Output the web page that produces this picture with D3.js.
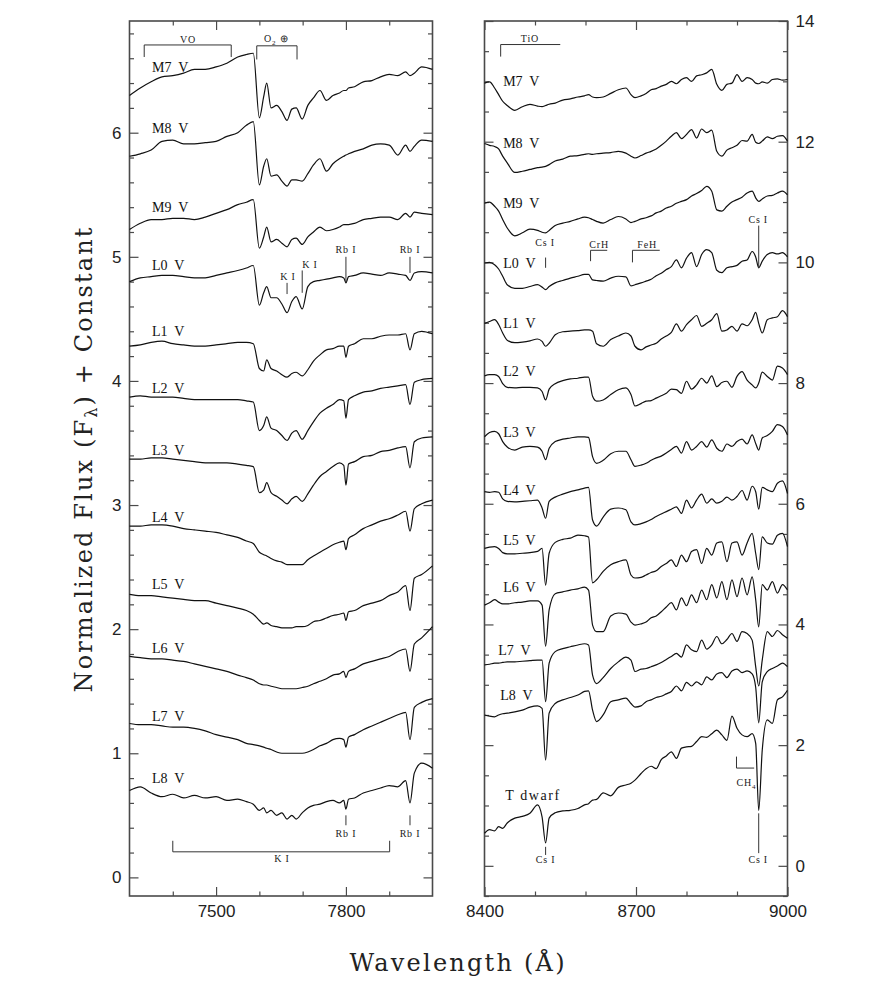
<!DOCTYPE html>
<html>
<head>
<meta charset="utf-8">
<title>Optical spectra of late-M and L dwarfs</title>
<script src="https://cdn.jsdelivr.net/npm/d3@7/dist/d3.min.js"></script>
<style>
  body { margin: 0; background: #fff; }
  svg { display: block; }
  .frame { fill: none; stroke: #4a4a4a; stroke-width: 1.6; }
  .spec { fill: none; stroke: #111; stroke-width: 1.2; stroke-linejoin: round; }
  .name { font-family: "Liberation Serif", serif; font-size: 14px; fill: #111; white-space: pre; }
  .note { font-family: "Liberation Serif", serif; font-size: 10px; fill: #222; letter-spacing: 0.8px; white-space: pre; }
  .mark { stroke: #333; stroke-width: 1; fill: none; }
  .title { font-family: "DejaVu Serif", serif; font-size: 24px; fill: #222; }
</style>
</head>
<body>
<svg id="chart" width="871" height="981"></svg>
<script>

// wavelength grids (Angstrom)
var leftWave = [7300,7325,7350,7375,7400,7425,7450,7475,7500,7525,7550,7570,7586,7600,7610,7617,7627,7640,7652,7664,7675,7685,7699,7712,7725,7740,7755,7770,7785,7795,7800,7806,7820,7840,7860,7880,7900,7920,7938,7948,7958,7975,8000];
var rightWave = [8400,8410,8420,8428,8436,8445,8460,8475,8490,8505,8514,8521,8528,8540,8555,8570,8585,8598,8606,8614,8622,8635,8650,8665,8680,8690,8698,8710,8720,8730,8740,8750,8760,8770,8780,8790,8800,8810,8820,8830,8840,8850,8860,8870,8880,8890,8900,8910,8920,8930,8937,8943,8950,8960,8970,8980,8990,9000];

// left panel: normalized flux + constant
var leftM7 = [6.30,6.36,6.41,6.45,6.46,6.48,6.51,6.51,6.53,6.56,6.61,6.63,6.64,6.12,6.29,6.40,6.20,6.22,6.17,6.10,6.19,6.20,6.11,6.22,6.28,6.34,6.26,6.30,6.32,6.34,6.34,6.36,6.37,6.41,6.42,6.45,6.47,6.46,6.49,6.46,6.48,6.53,6.51];
var leftM8 = [5.81,5.83,5.86,5.93,5.94,5.91,5.91,5.92,5.93,5.97,6.00,6.06,6.09,5.58,5.73,5.79,5.65,5.66,5.61,5.57,5.62,5.62,5.61,5.67,5.74,5.79,5.69,5.75,5.79,5.81,5.82,5.83,5.85,5.87,5.90,5.91,5.90,5.82,5.90,5.85,5.89,5.94,5.93];
var leftM9 = [5.22,5.27,5.30,5.30,5.31,5.31,5.30,5.32,5.35,5.38,5.42,5.44,5.46,5.07,5.16,5.24,5.12,5.14,5.11,5.08,5.14,5.15,5.10,5.16,5.20,5.24,5.21,5.22,5.24,5.26,5.26,5.26,5.27,5.30,5.31,5.32,5.32,5.30,5.35,5.32,5.36,5.35,5.34];
var leftL0 = [4.80,4.83,4.84,4.85,4.85,4.84,4.83,4.83,4.85,4.87,4.89,4.91,4.93,4.61,4.71,4.76,4.67,4.67,4.62,4.55,4.64,4.68,4.58,4.76,4.80,4.81,4.82,4.83,4.84,4.83,4.79,4.84,4.85,4.87,4.86,4.85,4.87,4.86,4.85,4.81,4.87,4.88,4.87];
var leftL1 = [4.28,4.29,4.31,4.32,4.30,4.29,4.28,4.28,4.29,4.30,4.31,4.31,4.30,4.10,4.08,4.17,4.10,4.08,4.05,4.03,4.06,4.07,4.04,4.09,4.16,4.21,4.25,4.26,4.28,4.28,4.19,4.28,4.30,4.34,4.34,4.36,4.37,4.37,4.38,4.25,4.38,4.40,4.38];
var leftL2 = [3.87,3.88,3.87,3.87,3.87,3.86,3.85,3.85,3.85,3.85,3.85,3.84,3.83,3.60,3.64,3.71,3.62,3.60,3.56,3.52,3.58,3.60,3.53,3.60,3.67,3.74,3.78,3.81,3.85,3.84,3.70,3.85,3.88,3.91,3.92,3.94,3.95,3.96,3.97,3.81,3.99,4.01,4.02];
var leftL3 = [3.37,3.37,3.38,3.38,3.37,3.36,3.35,3.34,3.34,3.34,3.33,3.32,3.31,3.10,3.12,3.18,3.10,3.07,3.04,3.01,3.05,3.07,3.03,3.09,3.16,3.23,3.27,3.31,3.34,3.32,3.16,3.33,3.35,3.39,3.40,3.43,3.44,3.46,3.47,3.30,3.51,3.54,3.55];
var leftL4 = [2.83,2.83,2.84,2.84,2.83,2.81,2.80,2.79,2.78,2.76,2.74,2.71,2.69,2.62,2.60,2.59,2.57,2.55,2.54,2.52,2.52,2.52,2.52,2.56,2.59,2.62,2.65,2.68,2.70,2.71,2.64,2.73,2.76,2.81,2.84,2.87,2.89,2.92,2.95,2.79,2.97,3.01,3.04];
var leftL5 = [2.28,2.27,2.27,2.26,2.25,2.24,2.23,2.23,2.21,2.19,2.17,2.15,2.12,2.07,2.04,2.05,2.03,2.02,2.01,2.01,2.01,2.02,2.02,2.03,2.06,2.07,2.09,2.11,2.12,2.13,2.07,2.14,2.15,2.19,2.21,2.23,2.27,2.30,2.35,2.15,2.41,2.44,2.51];
var leftL6 = [1.78,1.77,1.76,1.76,1.75,1.74,1.72,1.70,1.68,1.66,1.63,1.61,1.59,1.56,1.55,1.55,1.54,1.53,1.52,1.52,1.52,1.52,1.53,1.54,1.56,1.58,1.60,1.63,1.64,1.66,1.61,1.66,1.68,1.72,1.74,1.76,1.78,1.82,1.84,1.66,1.88,1.93,2.02];
var leftL7 = [1.24,1.23,1.23,1.22,1.21,1.21,1.20,1.18,1.15,1.13,1.11,1.08,1.07,1.06,1.05,1.04,1.03,1.01,1.00,1.00,1.00,1.00,1.00,1.01,1.03,1.06,1.08,1.11,1.12,1.11,1.05,1.13,1.15,1.19,1.22,1.25,1.28,1.31,1.33,1.11,1.37,1.41,1.44];
var leftL8 = [0.70,0.73,0.68,0.65,0.67,0.64,0.66,0.64,0.65,0.62,0.63,0.61,0.59,0.54,0.56,0.52,0.54,0.50,0.52,0.47,0.50,0.47,0.52,0.56,0.58,0.59,0.61,0.62,0.60,0.62,0.55,0.63,0.64,0.68,0.70,0.72,0.74,0.73,0.78,0.60,0.84,0.92,0.88];

// right panel: normalized flux + constant
var rightM7 = [12.97,12.99,12.89,12.78,12.67,12.60,12.52,12.58,12.62,12.59,12.58,12.60,12.62,12.64,12.69,12.71,12.74,12.76,12.78,12.74,12.73,12.74,12.80,12.86,12.89,12.78,12.73,12.76,12.80,12.86,12.88,12.92,12.95,13.00,12.96,13.03,13.06,13.00,13.09,13.11,13.14,13.20,12.95,12.85,12.95,12.97,13.11,13.00,13.06,13.03,12.97,12.96,12.99,12.97,13.03,13.04,13.02,13.03];
var rightM8 = [11.97,11.94,11.92,11.88,11.76,11.65,11.49,11.51,11.54,11.57,11.58,11.59,11.62,11.68,11.71,11.76,11.77,11.79,11.80,11.79,11.80,11.81,11.82,11.84,11.81,11.76,11.73,11.77,11.81,11.84,11.88,11.94,12.01,12.09,12.15,12.05,12.12,12.20,12.06,12.21,12.15,12.19,11.84,11.76,11.86,11.90,11.94,12.02,12.01,12.12,11.99,11.97,12.01,12.08,12.05,12.09,12.10,12.01];
var rightM9 = [10.98,11.00,10.93,10.85,10.71,10.57,10.44,10.49,10.55,10.53,10.50,10.49,10.53,10.61,10.65,10.68,10.72,10.75,10.74,10.71,10.68,10.65,10.71,10.76,10.72,10.66,10.68,10.72,10.74,10.77,10.82,10.85,10.90,10.93,10.98,11.01,11.04,11.10,11.14,11.19,11.26,11.18,10.87,10.85,10.93,11.00,11.04,11.08,11.15,11.18,11.07,11.01,11.05,11.10,11.11,11.15,11.18,11.12];
var rightL0 = [9.99,10.00,9.96,9.89,9.77,9.63,9.57,9.57,9.60,9.63,9.59,9.55,9.60,9.66,9.70,9.74,9.77,9.80,9.80,9.71,9.70,9.69,9.74,9.77,9.76,9.61,9.63,9.66,9.69,9.72,9.78,9.82,9.88,9.93,10.04,9.91,10.07,10.16,9.93,10.13,10.21,10.16,9.87,9.83,9.91,9.93,9.95,10.02,10.04,10.18,10.09,9.91,10.02,10.13,10.16,10.14,10.16,10.09];
var rightL1 = [8.99,9.02,9.05,8.97,8.83,8.71,8.67,8.68,8.70,8.73,8.69,8.61,8.66,8.80,8.85,8.86,8.87,8.88,8.88,8.86,8.65,8.61,8.72,8.78,8.83,8.78,8.61,8.55,8.60,8.63,8.66,8.73,8.78,8.84,8.98,8.86,8.97,9.05,9.12,8.94,8.99,9.05,9.15,8.86,8.88,8.94,8.86,8.98,8.95,9.05,9.17,8.99,8.83,9.05,9.08,9.10,9.20,9.10];
var rightL2 = [8.12,8.14,8.14,8.11,7.99,7.93,7.92,7.93,7.93,7.92,7.86,7.72,7.90,7.99,8.04,8.07,8.08,8.10,8.10,7.78,7.70,7.72,7.81,7.89,7.92,7.81,7.62,7.66,7.70,7.71,7.75,7.79,7.83,7.90,7.89,7.83,8.03,7.90,7.97,8.08,8.00,8.12,7.94,8.01,8.03,7.93,8.11,8.19,8.05,7.97,7.92,8.00,8.18,8.11,8.05,8.28,8.25,8.14];
var rightL3 = [7.11,7.18,7.20,7.16,7.03,6.94,6.89,6.94,6.95,6.94,6.87,6.73,6.92,7.03,7.07,7.09,7.11,7.11,7.10,6.78,6.67,6.72,6.83,6.87,6.87,6.73,6.62,6.64,6.67,6.72,6.76,6.79,6.84,6.90,6.95,6.84,7.03,6.89,6.95,7.03,6.94,7.06,6.92,6.87,6.99,6.95,7.03,7.07,6.99,7.14,7.00,6.89,7.09,7.13,7.20,7.31,7.28,7.14];
var rightL4 = [6.20,6.19,6.20,6.19,6.08,6.04,6.03,6.04,6.05,6.06,5.93,5.76,6.04,6.11,6.16,6.20,6.23,6.26,6.27,5.73,5.63,5.78,5.91,5.93,5.90,5.70,5.65,5.67,5.70,5.74,5.79,5.83,5.87,5.91,5.95,5.84,6.06,5.93,6.06,6.16,6.01,6.08,6.01,6.04,6.11,6.06,6.12,6.22,6.06,6.29,6.20,5.91,6.27,6.23,6.20,6.34,6.38,6.17];
var rightL5 = [5.26,5.28,5.29,5.26,5.19,5.17,5.17,5.18,5.19,5.21,5.26,4.65,5.18,5.36,5.41,5.43,5.48,5.47,5.45,4.69,4.74,4.88,4.99,5.04,5.07,4.82,4.77,4.78,4.82,4.86,4.89,4.96,5.01,5.07,4.96,5.15,5.04,5.21,5.24,5.01,5.26,5.15,5.35,5.37,5.04,5.35,5.37,5.15,5.35,5.51,5.18,4.91,5.45,5.35,5.33,5.48,5.51,5.29];
var rightL6 = [4.32,4.36,4.41,4.37,4.34,4.34,4.36,4.37,4.39,4.39,4.32,3.64,4.24,4.51,4.54,4.57,4.59,4.62,4.57,3.99,3.88,3.88,4.14,4.19,4.17,4.04,3.99,4.01,4.04,4.11,4.14,4.21,4.29,4.36,4.24,4.44,4.31,4.49,4.36,4.57,4.41,4.66,4.44,4.71,4.41,4.74,4.46,4.77,4.49,4.79,4.41,3.96,4.66,4.57,4.71,4.52,4.66,4.57];
var rightL7 = [3.33,3.34,3.36,3.36,3.37,3.38,3.38,3.39,3.40,3.41,3.41,2.72,3.36,3.55,3.60,3.63,3.66,3.68,3.66,3.16,3.02,3.12,3.27,3.38,3.46,3.41,3.22,3.26,3.27,3.30,3.33,3.37,3.42,3.47,3.52,3.46,3.66,3.58,3.55,3.74,3.59,3.66,3.80,3.68,3.75,3.85,3.72,3.88,3.85,3.74,3.30,2.98,3.41,3.88,3.80,3.90,3.83,3.77];
var rightL8 = [2.50,2.48,2.47,2.50,2.52,2.53,2.55,2.58,2.63,2.65,2.61,1.75,2.53,2.69,2.75,2.79,2.83,2.89,2.90,2.58,2.39,2.50,2.72,2.75,2.78,2.69,2.63,2.65,2.72,2.75,2.79,2.81,2.85,2.89,2.98,2.90,3.04,2.98,3.05,3.00,3.13,3.08,3.18,3.20,3.12,3.23,3.26,3.20,3.23,3.18,2.96,2.37,3.05,3.22,3.27,3.31,3.36,3.30];
var rightT = [0.54,0.60,0.58,0.65,0.62,0.71,0.79,0.82,0.87,1.01,0.81,0.38,0.79,0.88,0.91,0.92,0.95,1.01,1.03,1.09,1.10,1.21,1.16,1.30,1.34,1.37,1.42,1.53,1.61,1.65,1.61,1.76,1.82,1.89,1.78,1.95,1.97,1.98,2.06,2.14,2.13,2.19,2.25,2.17,2.08,2.48,2.28,2.17,2.14,2.19,2.03,0.92,1.92,2.42,2.36,2.75,2.80,2.91];

// spectral type labels and where they sit [wavelength, flux]
var leftNames = ["M7  V","M8  V","M9  V","L0  V","L1  V","L2  V","L3  V","L4  V","L5  V","L6  V","L7  V","L8  V"];
var leftNameAt = [[7352,6.49],[7352,6.00],[7352,5.36],[7352,4.89],[7352,4.36],[7352,3.90],[7352,3.40],[7352,2.86],[7352,2.32],[7352,1.81],[7352,1.26],[7352,0.76]];
var rightNames = ["M7  V","M8  V","M9  V","L0  V","L1  V","L2  V","L3  V","L4  V","L5  V","L6  V","L7  V","L8  V","T dwarf"];
var rightNameAt = [[8437,12.92],[8437,11.90],[8437,10.90],[8437,9.91],[8437,8.91],[8437,8.11],[8437,7.11],[8437,6.15],[8437,5.32],[8437,4.53],[8427,3.49],[8431,2.75],[8441,1.09]];

// axis ticks
var leftXMajor = [7500, 7800];
var leftXMinor = [7400, 7600, 7700, 7900];
var leftYMajor = [0, 1, 2, 3, 4, 5, 6];
var rightXMajor = [8400, 8700, 9000];
var rightXMinor = [8500, 8600, 8800, 8900];
var rightYMajor = [0, 2, 4, 6, 8, 10, 12, 14];

// band brackets: label, wavelength span, level, tick ends
var leftBands = [
  {text: "VO", sub: "", tail: "", from: 7334, to: 7535, level: 6.707, end: 6.61, ends: [7334, 7535], at: 7435, base: 6.725, anchor: "middle"},
  {text: "O", sub: "2", tail: " \u2295", from: 7594, to: 7687, level: 6.70, end: 6.59, ends: [7594, 7687], at: 7639, base: 6.733, anchor: "middle"},
  {text: "K I", sub: "", tail: "", from: 7400, to: 7901, level: 0.206, end: 0.295, ends: [7400, 7901], at: 7652, base: 0.126, anchor: "middle"}
];
var rightBands = [
  {text: "TiO", sub: "", tail: "", from: 8432, to: 8550, level: 13.61, end: 13.41, ends: [8432], at: 8490, base: 13.66, anchor: "middle"},
  {text: "CrH", sub: "", tail: "", from: 8610, to: 8643, level: 10.20, end: 10.02, ends: [8610], at: 8627, base: 10.24, anchor: "middle"},
  {text: "FeH", sub: "", tail: "", from: 8693, to: 8747, level: 10.20, end: 10.00, ends: [8693], at: 8722, base: 10.24, anchor: "middle"},
  {text: "CH", sub: "4", tail: "", from: 8899, to: 8934, level: 1.62, end: 1.81, ends: [8899], at: 8899, base: 1.32, anchor: "start"}
];

// atomic line markers: label, wavelength, tick from/to, label position
var leftLines = [
  {text: "Rb I", wave: 7800, top: 5.00, bot: 4.79, at: 7800, base: 5.03, w: 1},
  {text: "Rb I", wave: 7948, top: 5.00, bot: 4.87, at: 7948, base: 5.03, w: 1},
  {text: "K I", wave: 7664, top: 4.79, bot: 4.70, at: 7666, base: 4.81, w: 1},
  {text: "K I", wave: 7699, top: 4.89, bot: 4.71, at: 7717, base: 4.91, w: 1},
  {text: "Rb I", wave: 7800, top: 0.50, bot: 0.42, at: 7800, base: 0.322, w: 1},
  {text: "Rb I", wave: 7948, top: 0.50, bot: 0.42, at: 7948, base: 0.322, w: 1}
];
var rightLines = [
  {text: "Cs I", wave: 8521, top: 10.08, bot: 9.91, at: 8520, base: 10.27, w: 2},
  {text: "Cs I", wave: 8943, top: 10.61, bot: 9.91, at: 8942, base: 10.65, w: 1},
  {text: "Cs I", wave: 8521, top: 0.315, bot: 0.18, at: 8521, base: 0.04, w: 1},
  {text: "Cs I", wave: 8943, top: 0.87, bot: 0.21, at: 8942, base: 0.04, w: 1}
];

var leftFlux = [leftM7, leftM8, leftM9, leftL0, leftL1, leftL2, leftL3, leftL4, leftL5, leftL6, leftL7, leftL8];
var rightFlux = [rightM7, rightM8, rightM9, rightL0, rightL1, rightL2, rightL3, rightL4, rightL5, rightL6, rightL7, rightL8, rightT];

var svg = d3.select("#chart");

var leftX = d3.scaleLinear().domain([7300, 8000]).range([129.5, 432.5]);
var leftY = d3.scaleLinear().domain([-0.15, 6.9]).range([896, 21]);
var rightX = d3.scaleLinear().domain([8400, 9000]).range([484.5, 787.5]);
var rightY = d3.scaleLinear().domain([-0.5, 14]).range([896, 21]);

function axisPart(gen, tx, ty, vals, size, fmt, pad) {
  var a = svg.append("g")
    .attr("transform", "translate(" + tx + "," + ty + ")")
    .call(gen.tickValues(vals).tickSize(size).tickPadding(pad || 8)
      .tickFormat(fmt || function() { return ""; }));
  a.select(".domain").remove();
  a.selectAll("line").attr("stroke", "#4a4a4a").attr("stroke-width", 1.2);
  a.selectAll("text")
    .attr("font-family", "'Liberation Sans', Arial, sans-serif")
    .attr("font-size", 17)
    .attr("fill", "#222");
  return a;
}

function panel(x, y, o) {
  var xr = x.range(), yr = y.range();
  var fmt = d3.format("d");
  // bottom and top
  axisPart(d3.axisBottom(x), 0, yr[0], o.xMajor, -9, fmt, 9);
  axisPart(d3.axisBottom(x), 0, yr[0], o.xMinor, -4.5);
  axisPart(d3.axisTop(x), 0, yr[1], o.xMajor, -9);
  axisPart(d3.axisTop(x), 0, yr[1], o.xMinor, -4.5);
  // left and right
  axisPart(d3.axisLeft(y), xr[0], 0, o.yMajor, -9, o.labelLeft ? fmt : null, 8);
  axisPart(d3.axisLeft(y), xr[0], 0, o.yMinor, -4.5);
  axisPart(d3.axisRight(y), xr[1], 0, o.yMajor, -9, o.labelLeft ? null : fmt, 8);
  axisPart(d3.axisRight(y), xr[1], 0, o.yMinor, -4.5);

  svg.append("rect").attr("class", "frame")
    .attr("x", xr[0]).attr("y", yr[1])
    .attr("width", xr[1] - xr[0]).attr("height", yr[0] - yr[1]);

  var line = d3.line()
    .x(function(d) { return x(d[0]); })
    .y(function(d) { return y(d[1]); })
    .curve(d3.curveMonotoneX);
  svg.append("g").selectAll("path").data(o.flux).join("path")
    .attr("class", "spec")
    .attr("d", function(f) { return line(d3.zip(o.wave, f)); });

  svg.append("g").selectAll("text").data(o.names).join("text")
    .attr("class", "name")
    .attr("x", function(d, i) { return x(o.nameAt[i][0]); })
    .attr("y", function(d, i) { return y(o.nameAt[i][1]); })
    .style("letter-spacing", function(d) { return d.indexOf("dwarf") >= 0 ? "1.6px" : null; })
    .text(function(d) { return d; });

  // band brackets
  o.bands.forEach(function(b) {
    var g = svg.append("g");
    g.append("line").attr("class", "mark")
      .attr("x1", x(b.from)).attr("x2", x(b.to))
      .attr("y1", y(b.level)).attr("y2", y(b.level));
    b.ends.forEach(function(e) {
      g.append("line").attr("class", "mark")
        .attr("x1", x(e)).attr("x2", x(e))
        .attr("y1", y(b.level)).attr("y2", y(b.end));
    });
    var t = g.append("text").attr("class", "note")
      .attr("x", x(b.at)).attr("y", y(b.base))
      .attr("text-anchor", b.anchor);
    t.append("tspan").text(b.text);
    if (b.sub) t.append("tspan").attr("dy", 3).attr("font-size", 7).text(b.sub);
    if (b.tail) t.append("tspan").attr("dy", -3).text(b.tail);
  });

  // atomic line markers
  o.lines.forEach(function(l) {
    svg.append("line").attr("class", "mark")
      .attr("stroke-width", l.w)
      .attr("stroke", l.w > 1 ? "#111" : "#777")
      .attr("x1", x(l.wave)).attr("x2", x(l.wave))
      .attr("y1", y(l.top)).attr("y2", y(l.bot));
    svg.append("text").attr("class", "note")
      .attr("x", x(l.at)).attr("y", y(l.base))
      .attr("text-anchor", "middle")
      .text(l.text);
  });
}

panel(leftX, leftY, {
  xMajor: leftXMajor, xMinor: leftXMinor,
  yMajor: leftYMajor, yMinor: d3.range(0, 6.81, 0.2).filter(function(v) { return Math.abs(v - Math.round(v)) > 0.01; }),
  labelLeft: true,
  wave: leftWave, flux: leftFlux,
  names: leftNames, nameAt: leftNameAt,
  bands: leftBands, lines: leftLines
});

panel(rightX, rightY, {
  xMajor: rightXMajor, xMinor: rightXMinor,
  yMajor: rightYMajor, yMinor: d3.range(-0.5, 14, 0.5).filter(function(v) { return v % 2 !== 0; }),
  labelLeft: false,
  wave: rightWave, flux: rightFlux,
  names: rightNames, nameAt: rightNameAt,
  bands: rightBands, lines: rightLines
});

// axis titles
svg.append("text").attr("class", "title")
  .attr("x", 457).attr("y", 971)
  .attr("text-anchor", "middle")
  .attr("textLength", 215).attr("lengthAdjust", "spacing")
  .text("Wavelength (\u00c5)");

var yt = svg.append("text").attr("class", "title")
  .attr("transform", "translate(92,460) rotate(-90)")
  .attr("text-anchor", "middle")
  .attr("textLength", 465).attr("lengthAdjust", "spacing");
yt.append("tspan").text("Normalized Flux (F");
yt.append("tspan").attr("dy", 5).attr("font-size", 16).text("\u03bb");
yt.append("tspan").attr("dy", -5).text(") + Constant");

</script>
</body>
</html>
